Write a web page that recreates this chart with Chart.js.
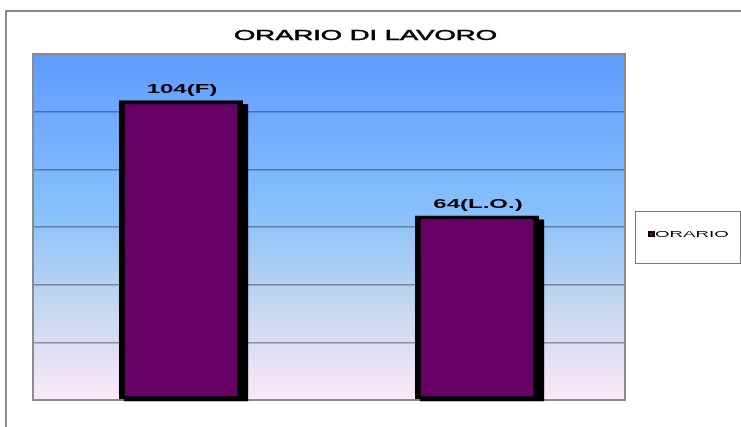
<!DOCTYPE html>
<html>
<head>
<meta charset="utf-8">
<script src="https://cdn.jsdelivr.net/npm/chart.js@4/dist/chart.umd.min.js"></script>
<style>
  html, body { margin: 0; padding: 0; background: #ffffff; }
  #wrap { width: 741px; height: 427px; position: relative; }
</style>
</head>
<body>
<div id="wrap"><canvas id="c" width="741" height="427"></canvas></div>
<script>
// ---- data ----
const chartTitle = 'ORARIO DI LAVORO';
const seriesName = 'ORARIO';
const categories = ['F', 'L.O.'];
const values = [104, 64];
const yTicks = [0, 20, 40, 60, 80, 100, 120];

const FONT = '"Liberation Sans", Arial, sans-serif';

function drawStretched(ctx, text, cx, baseline, font, sx, align, thicken) {
  ctx.save();
  ctx.font = font;
  ctx.textAlign = align || 'center';
  ctx.textBaseline = 'alphabetic';
  ctx.fillStyle = '#000000';
  ctx.translate(cx, baseline);
  ctx.scale(sx, 1);
  ctx.fillText(text, 0, 0);
  if (thicken) {
    ctx.strokeStyle = '#000000';
    ctx.lineWidth = thicken;
    ctx.strokeText(text, 0, 0);
  }
  ctx.restore();
}

const framePlugin = {
  id: 'frame',
  beforeDraw(chart) {
    const { ctx, chartArea: a } = chart;
    ctx.save();
    // outer frame (top and left)
    ctx.strokeStyle = '#666666';
    ctx.lineWidth = 1.5;
    ctx.beginPath();
    ctx.moveTo(6, chart.height);
    ctx.lineTo(6, 11);
    ctx.lineTo(chart.width, 11);
    ctx.stroke();
    // plot background gradient
    const g = ctx.createLinearGradient(0, a.top, 0, a.bottom);
    g.addColorStop(0, '#5f9bff');
    g.addColorStop(0.45, '#86c0fc');
    g.addColorStop(0.72, '#c2d6ef');
    g.addColorStop(1, '#fde9f7');
    ctx.fillStyle = g;
    ctx.fillRect(a.left, a.top, a.right - a.left, a.bottom - a.top);
    ctx.restore();
  },
  beforeDatasetsDraw(chart) {
    const { ctx, chartArea: a } = chart;
    ctx.save();
    ctx.strokeStyle = '#8c8c8c';
    ctx.lineWidth = 2;
    ctx.strokeRect(a.left, a.top, a.right - a.left, a.bottom - a.top);
    // drop shadow behind each bar, from the bar elements' own geometry
    ctx.fillStyle = '#000000';
    chart.getDatasetMeta(0).data.forEach(bar => {
      const p = bar.getProps(['x', 'y', 'base', 'width']);
      const left = p.x - p.width / 2;
      ctx.fillRect(left + 5, p.y + 4, p.width, p.base - p.y - 2);
    });
    ctx.restore();
  },
  afterDatasetsDraw(chart) {
    const ctx = chart.ctx;
    const meta = chart.getDatasetMeta(0);
    meta.data.forEach((bar, i) => {
      const txt = values[i] + '(' + categories[i] + ')';
      drawStretched(ctx, txt, bar.x + 1, bar.y - 7, 'bold 12px ' + FONT, 2);
    });
  },
  afterDraw(chart) {
    const { ctx, chartArea: a } = chart;
    // title
    drawStretched(ctx, chartTitle, chart.width / 2 - 5, 39.5, '14.5px ' + FONT, 1.89, 'center', 0.45);
    // legend box
    const lx = a.right + 10, ly = a.top + 157, lw = chart.width - 1 - lx, lh = 52;
    ctx.save();
    ctx.fillStyle = '#ffffff';
    ctx.fillRect(lx, ly, lw, lh);
    ctx.strokeStyle = '#777777';
    ctx.lineWidth = 1;
    ctx.strokeRect(lx + 0.5, ly + 0.5, lw, lh);
    // marker
    const mx = lx + 13, my = ly + 20;
    ctx.fillStyle = '#000000';
    ctx.fillRect(mx, my, 7, 6);
    ctx.fillStyle = '#660066';
    ctx.fillRect(mx + 2, my + 2, 3, 2);
    ctx.restore();
    drawStretched(ctx, seriesName, mx + 7, my + 6, '8.5px ' + FONT, 2.2, 'left');
  }
};

new Chart(document.getElementById('c'), {
  type: 'bar',
  data: {
    labels: categories,
    datasets: [{
      label: seriesName,
      data: values,
      backgroundColor: '#660066',
      borderColor: '#000000',
      borderWidth: { left: 6, right: 6, top: 4, bottom: 3 },
      borderSkipped: false,
      barPercentage: 0.42,
      categoryPercentage: 1.0
    }]
  },
  options: {
    responsive: false,
    animation: false,
    devicePixelRatio: 1,
    layout: { padding: { left: 33, right: 116, top: 54, bottom: 27 } },
    plugins: {
      legend: { display: false },
      title: { display: false },
      tooltip: { enabled: false }
    },
    scales: {
      x: { display: false },
      y: {
        display: true,
        min: yTicks[0],
        max: yTicks[yTicks.length - 1],
        afterBuildTicks(scale) { scale.ticks = yTicks.map(v => ({ value: v })); },
        ticks: { display: false },
        border: { display: false },
        grid: { color: 'rgba(40,40,60,0.45)', lineWidth: 1.5, drawTicks: false }
      }
    }
  },
  plugins: [framePlugin]
});
</script>
</body>
</html>
